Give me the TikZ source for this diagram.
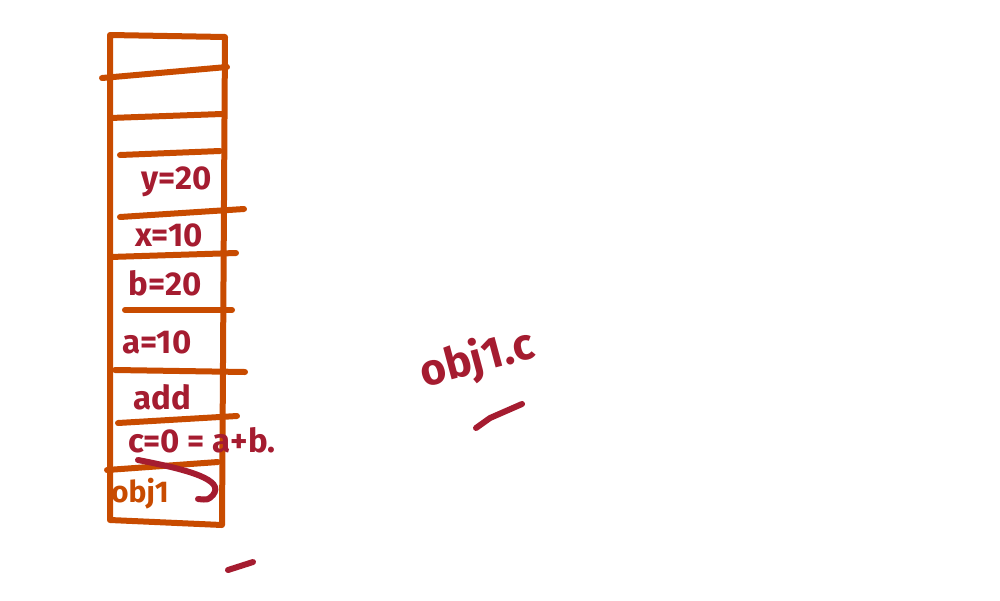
\documentclass[tikz,border=0pt]{standalone}
\usepackage{fontspec}
\setmainfont{Fira Sans}
\usepackage{tikz}
\usetikzlibrary{calc}
\definecolor{pen}{RGB}{200,75,0}
\definecolor{ink}{RGB}{165,28,48}
\tikzstyle{wall}=[draw=pen, line width=6pt, line cap=round, line join=round]
\tikzstyle{note}=[text=ink, font=\fontsize{33}{36}\selectfont\bfseries, inner sep=0pt]
\tikzstyle{mark ink}=[draw=ink, line width=6pt, line cap=round]

\begin{document}
\begin{tikzpicture}[x=1pt,y=-1pt]
\useasboundingbox (0,0) rectangle (1000,600);
% the stack box
\draw[wall] (110,35) -- (225,37) -- (222,525) -- (110,520) -- cycle;
\foreach \xa/\ya/\xb/\yb in {102/78/227/67, 110/118/222/114, 120/155/220/151,
	120/217/244/209, 110/257/236/253, 125/310/232/310, 115/370/245/372,
	118/423/237/416, 107/470/218/462} {
	\draw[wall] (\xa,\ya) -- (\xb,\yb);
}
% frames
\node[note] (y) at (177,182) {y=20};
\node[note] (x) at (169,235) {x=10};
\node[note] (b) at (165,283) {b=20};
\node[note] (a) at (157,342) {a=10};
\node[note] (add) at (162,397) {add};
\node[note, anchor=west] (c) at (128,440) {c=0 = a+b.};
\node[note, text=pen, font=\fontsize{30}{33}\selectfont\bfseries] (obj) at (140,494) {obj1};
\draw[mark ink] (138,460) .. controls (190,470) and (225,480) .. (213,495) .. controls (208,500) .. (198,499);
\draw[mark ink] (228,570) -- (253,562);
% the access
\node[note, font=\fontsize{44}{48}\selectfont\bfseries, rotate=15] (acc) at (477,360) {obj1.c};
\draw[mark ink] (476,428) -- (490,418) -- (522,404);
\end{tikzpicture}
\end{document}
